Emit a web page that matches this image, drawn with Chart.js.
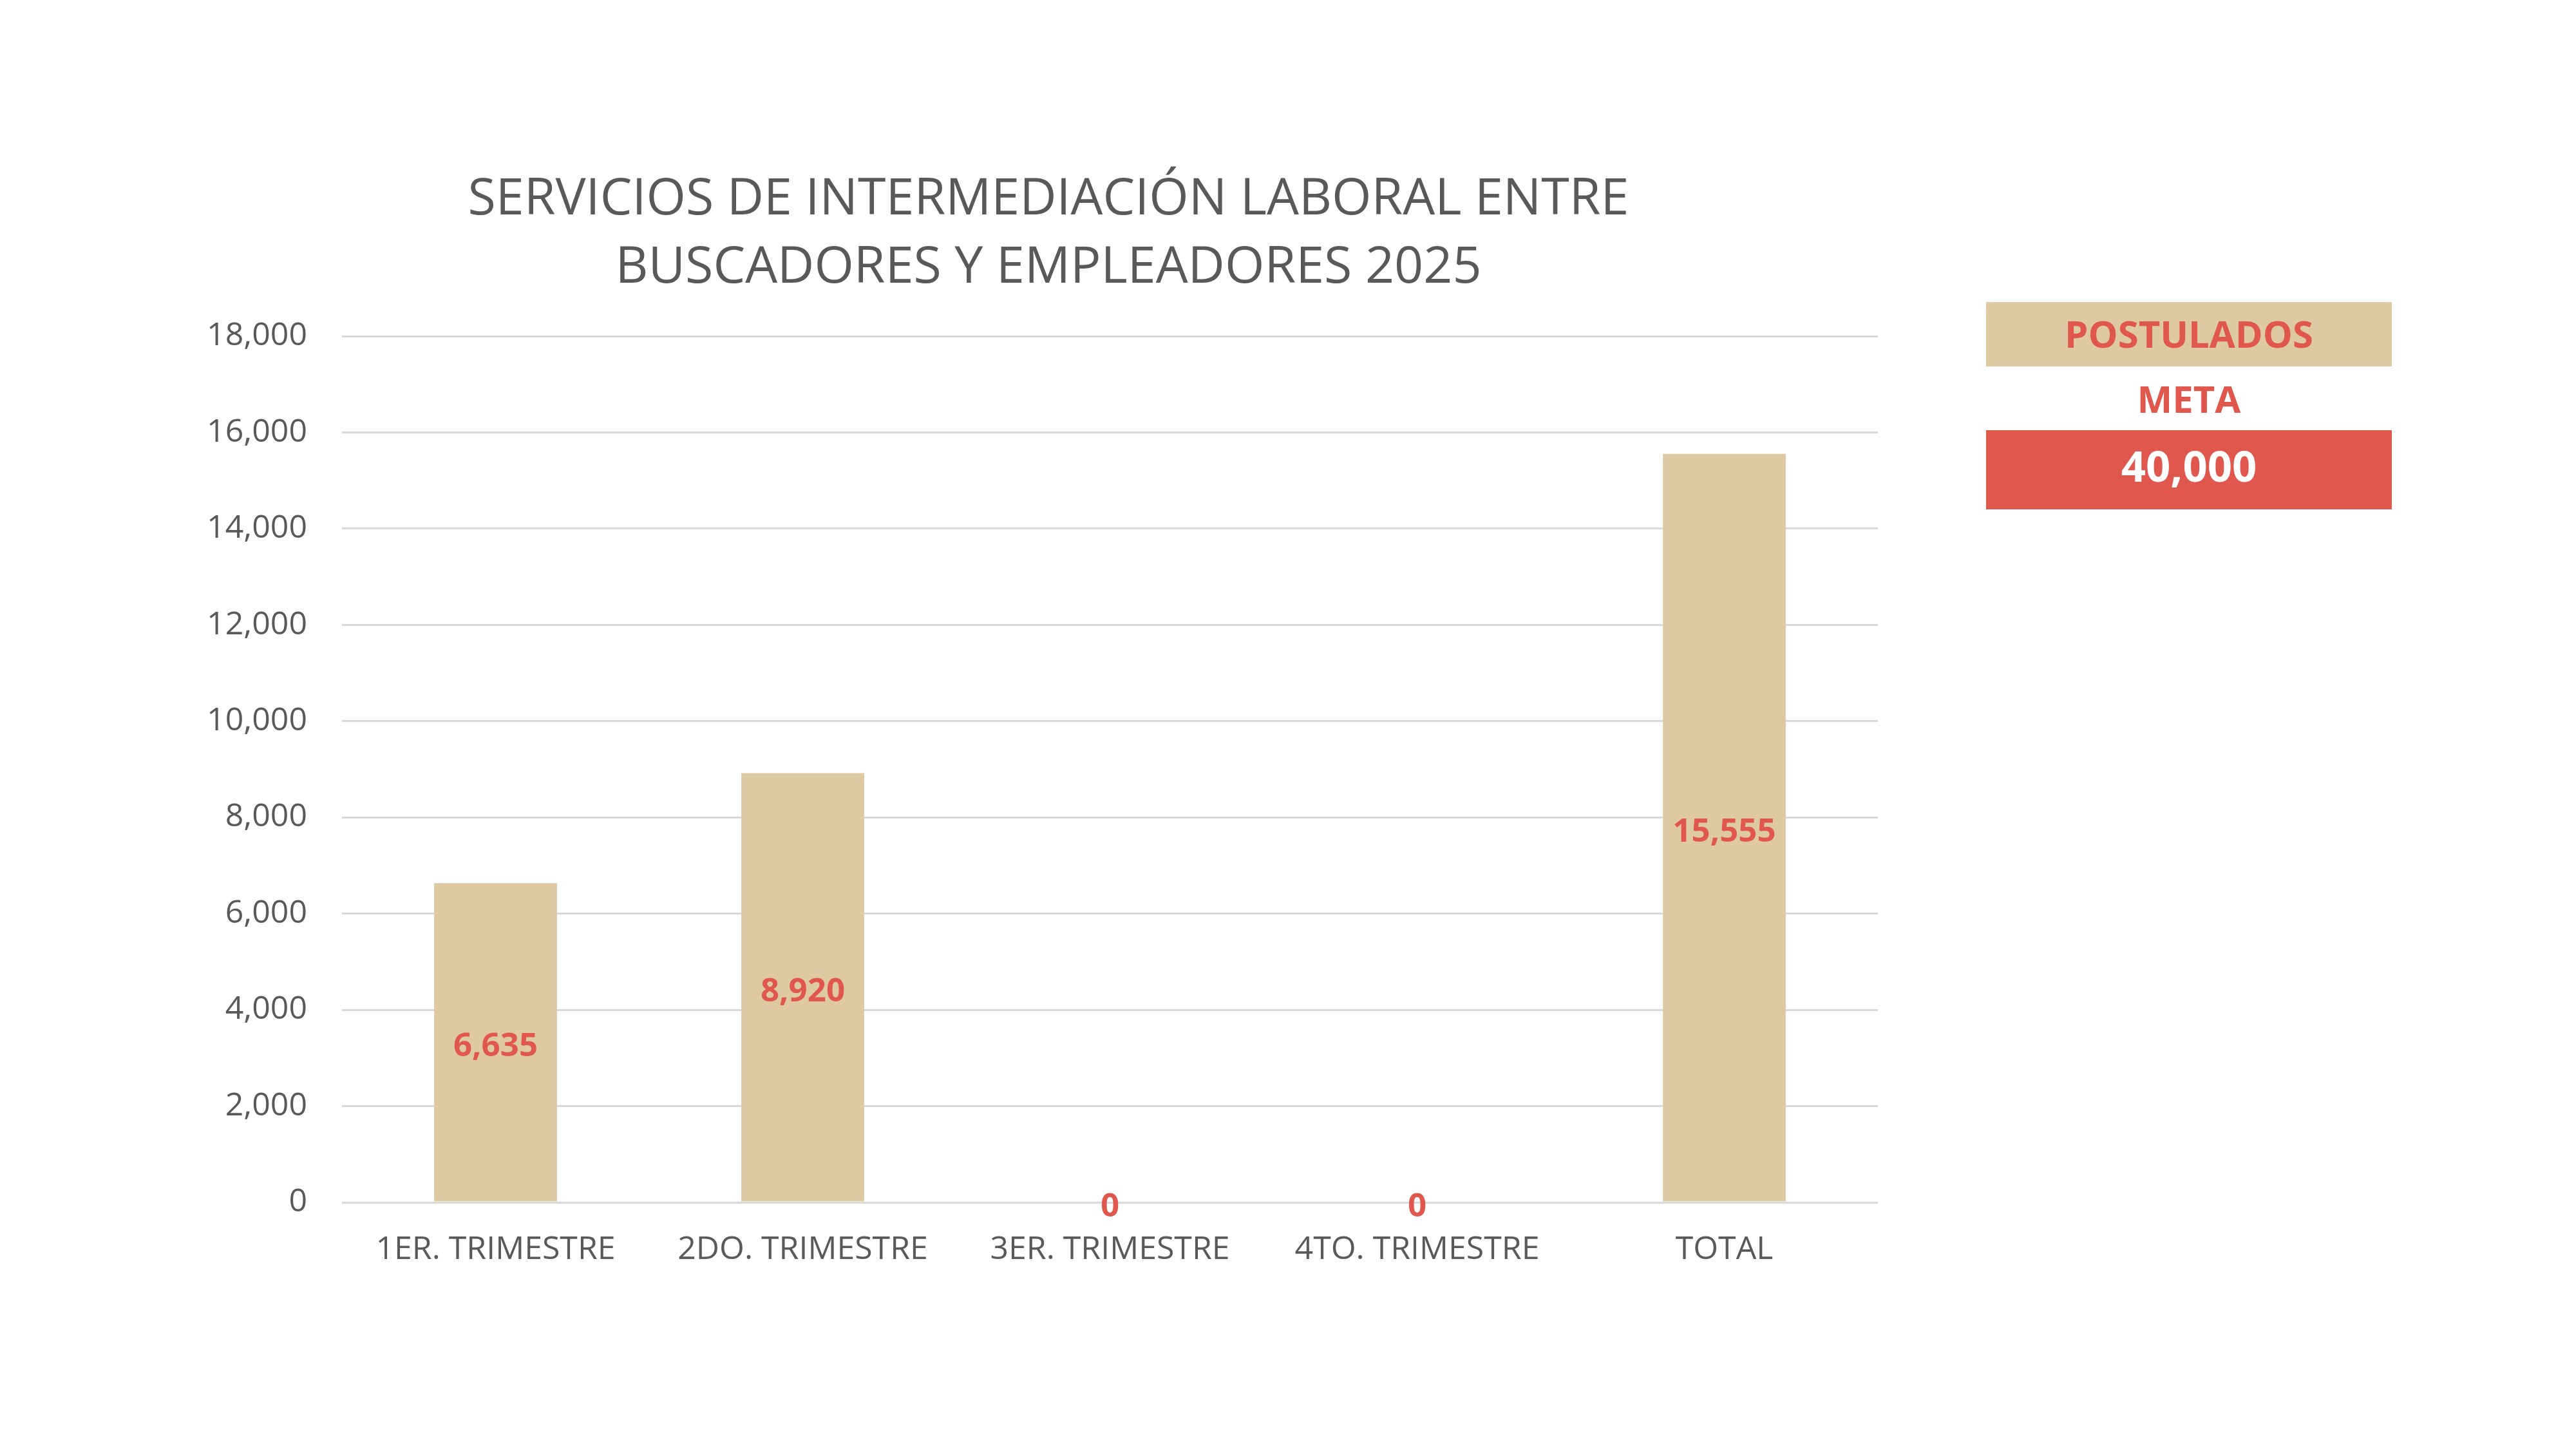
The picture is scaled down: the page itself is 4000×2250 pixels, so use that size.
<!DOCTYPE html>
<html>
<head>
<meta charset="utf-8">
<script src="https://cdn.jsdelivr.net/npm/chart.js@4/dist/chart.umd.min.js"></script>
<style>
  html, body { margin: 0; padding: 0; background: #ffffff; }
  #wrap { width: 4000px; height: 2250px; position: relative; }
</style>
</head>
<body>
<div id="wrap"><canvas id="c" width="4000" height="2250"></canvas></div>
<script>
const categories = ["1ER. TRIMESTRE", "2DO. TRIMESTRE", "3ER. TRIMESTRE", "4TO. TRIMESTRE", "TOTAL"];
const postulados = [6635, 8920, 0, 0, 15555];
const yTicks = [0, 2000, 4000, 6000, 8000, 10000, 12000, 14000, 16000, 18000];
const titleLines = ["SERVICIOS DE INTERMEDIACIÓN LABORAL ENTRE", "BUSCADORES Y EMPLEADORES 2025"];
const seriesName = "POSTULADOS";
const metaLabel = "META";
const metaValue = 40000;

const BEIGE = "#DFC9A3";
const RED = "#E0574D";
const GRAY = "#595959";
const FONT = "'Open Sans', 'Noto Sans', sans-serif";
const fmt = v => v.toLocaleString("en-US");

const titlePlugin = {
  id: "titleText",
  afterDraw(chart) {
    const ctx = chart.ctx;
    ctx.save();
    ctx.font = "79px " + FONT;
    ctx.fillStyle = GRAY;
    ctx.textAlign = "center";
    ctx.textBaseline = "alphabetic";
    ctx.fillText(titleLines[0], 1628, 333);
    ctx.fillText(titleLines[1], 1628, 439);
    ctx.restore();
  }
};

const barLabels = {
  id: "barLabels",
  afterDatasetsDraw(chart) {
    const ctx = chart.ctx;
    const meta = chart.getDatasetMeta(0);
    ctx.save();
    ctx.font = "bold 51px " + FONT;
    ctx.fillStyle = RED;
    ctx.textAlign = "center";
    ctx.textBaseline = "middle";
    meta.data.forEach((el, i) => {
      const p = el.getProps(["x", "y", "base"], true);
      ctx.fillText(fmt(postulados[i]), p.x, (p.y + p.base) / 2 + 7);
    });
    ctx.restore();
  }
};

const sideLegend = {
  id: "sideLegend",
  afterDraw(chart) {
    const ctx = chart.ctx;
    const x0 = 3084, w = 630, cx = x0 + w / 2;
    ctx.save();
    ctx.fillStyle = BEIGE;
    ctx.fillRect(x0, 469, w, 100);
    ctx.fillStyle = RED;
    ctx.fillRect(x0, 668, w, 123);
    ctx.textAlign = "center";
    ctx.textBaseline = "alphabetic";
    ctx.font = "bold 58px " + FONT;
    ctx.fillStyle = RED;
    ctx.fillText(seriesName, cx, 540);
    ctx.fillText(metaLabel, cx, 641);
    ctx.font = "bold 67px " + FONT;
    ctx.fillStyle = "#ffffff";
    ctx.fillText(fmt(metaValue), cx, 748);
    ctx.restore();
  }
};

new Chart(document.getElementById("c"), {
  type: "bar",
  data: {
    labels: categories,
    datasets: [{
      label: seriesName,
      data: postulados,
      backgroundColor: BEIGE,
      borderWidth: 0,
      barPercentage: 0.4,
      categoryPercentage: 1.0
    }]
  },
  options: {
    responsive: false,
    animation: false,
    devicePixelRatio: 1,
    layout: { padding: { left: 231, right: 1084, top: 522, bottom: 233 } },
    plugins: {
      legend: { display: false },
      tooltip: { enabled: false },
      title: { display: false }
    },
    scales: {
      x: {
        grid: { display: false, drawTicks: false },
        border: { display: false },
        ticks: { color: GRAY, font: { family: FONT, size: 50 }, padding: 44, maxRotation: 0, autoSkip: false },
        afterFit(scale) { scale.height = 150; }
      },
      y: {
        min: 0, max: 18000,
        afterBuildTicks(scale) { scale.ticks = yTicks.map(v => ({ value: v })); },
        grid: { color: "#D9D9D9", lineWidth: 3, drawTicks: false },
        border: { display: false },
        ticks: { color: GRAY, font: { family: FONT, size: 50 }, padding: 54, callback: v => fmt(v) },
        afterFit(scale) { scale.width = 300; }
      }
    }
  },
  plugins: [barLabels, sideLegend, titlePlugin]
});
</script>
</body>
</html>
